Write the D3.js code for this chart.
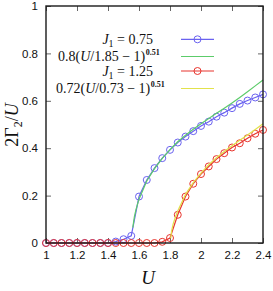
<!DOCTYPE html>
<html>
<head>
<meta charset="utf-8">
<script src="https://cdn.jsdelivr.net/npm/d3@7"></script>
<style>
  body { margin: 0; background: #fff; }
  svg { display: block; }
</style>
</head>
<body>
<div id="chart"></div>
<script>
// data
var uVals = [1.0, 1.05, 1.1, 1.15, 1.2, 1.25, 1.3, 1.35, 1.4, 1.45, 1.5, 1.55, 1.6, 1.65, 1.7,
             1.75, 1.8, 1.85, 1.9, 1.95, 2.0, 2.05, 2.1, 2.15, 2.2, 2.25, 2.3, 2.35, 2.4];
var j075 = [0, 0, 0, 0, 0, 0, 0, 0, 0, 0.006, 0.016, 0.03, 0.196, 0.266, 0.316,
            0.358, 0.393, 0.424, 0.449, 0.472, 0.494, 0.512, 0.533, 0.55, 0.569, 0.587, 0.601, 0.614, 0.627];
var j125 = [0, 0, 0, 0, 0, 0, 0, 0, 0, 0, 0, 0, 0, 0, 0,
            0.005, 0.021, 0.119, 0.196, 0.25, 0.291, 0.323, 0.354, 0.379, 0.403, 0.421, 0.442, 0.461, 0.477];
var fitAU = [1.56, 1.57, 1.58, 1.6, 1.65, 1.7, 1.75, 1.8, 1.85, 1.9, 1.95, 2.0, 2.05, 2.1, 2.15, 2.2, 2.25, 2.3, 2.35, 2.4];
var fitA  = [0.065, 0.11, 0.14, 0.185, 0.262, 0.314, 0.357, 0.394, 0.427, 0.455, 0.48, 0.503, 0.525, 0.547, 0.569, 0.591, 0.614, 0.638, 0.663, 0.688];
var fitBU = [1.805, 1.81, 1.82, 1.83, 1.85, 1.9, 1.95, 2.0, 2.05, 2.1, 2.15, 2.2, 2.25, 2.3, 2.35, 2.4];
var fitB  = [0.02, 0.05, 0.08, 0.1, 0.135, 0.205, 0.255, 0.295, 0.33, 0.36, 0.386, 0.41, 0.434, 0.456, 0.479, 0.503];
var xTicks = [1, 1.2, 1.4, 1.6, 1.8, 2, 2.2, 2.4];
var yTicks = [0, 0.2, 0.4, 0.6, 0.8, 1];

var W = 273, H = 291;
var margin = { top: 6, right: 10, bottom: 48, left: 46 };
var width = W - margin.left - margin.right;
var height = H - margin.top - margin.bottom;

var blue = "#6a62f0", green = "#5ccc6a", red = "#e8352e", yellow = "#e2e24c";

var svg = d3.select("#chart").append("svg")
  .attr("width", W).attr("height", H);
var g = svg.append("g")
  .attr("transform", "translate(" + margin.left + "," + margin.top + ")");

var x = d3.scaleLinear().domain([1, 2.4]).range([0, width]);
var y = d3.scaleLinear().domain([0, 1]).range([height, 0]);

// axes, ticks pointing inward on all four sides
var tickFont = "'Liberation Sans', Arial, sans-serif";
function styleAxis(sel) {
  sel.select(".domain").remove();
  sel.selectAll(".tick line").attr("stroke", "#666").attr("stroke-width", 1);
  sel.selectAll(".tick text").attr("fill", "#111").style("font-family", tickFont).style("font-size", "11.5px");
}
g.append("g").attr("transform", "translate(0," + height + ")")
  .call(d3.axisBottom(x).tickValues(xTicks).tickFormat(d3.format("")).tickSizeInner(-5).tickPadding(8))
  .call(styleAxis);
g.append("g")
  .call(d3.axisLeft(y).tickValues(yTicks).tickFormat(d3.format("")).tickSizeInner(-5).tickPadding(8))
  .call(styleAxis);
g.append("g")
  .call(d3.axisTop(x).tickValues(xTicks).tickFormat("").tickSizeInner(-5))
  .call(styleAxis);
g.append("g").attr("transform", "translate(" + width + ",0)")
  .call(d3.axisRight(y).tickValues(yTicks).tickFormat("").tickSizeInner(-5))
  .call(styleAxis);

var line = d3.line().x(function (d) { return x(d[0]); }).y(function (d) { return y(d[1]); });
var plot = g.append("g");

function series(us, vs, color, markers) {
  var pts = us.map(function (u, i) { return [u, vs[i]]; });
  plot.append("path").datum(pts)
    .attr("fill", "none").attr("stroke", color).attr("stroke-width", 1.2)
    .attr("d", line);
  if (markers) {
    plot.selectAll(null).data(pts).enter().append("circle")
      .attr("cx", function (d) { return x(d[0]); })
      .attr("cy", function (d) { return y(d[1]); })
      .attr("r", 3.5)
      .attr("fill", "none").attr("stroke", color).attr("stroke-width", 1);
  }
}
series(uVals, j075, blue, true);
series(fitAU, fitA, green, false);
series(uVals, j125, red, true);
series(fitBU, fitB, yellow, false);

// frame
g.append("rect").attr("width", width).attr("height", height)
  .attr("fill", "none").attr("stroke", "#1a1a1a").attr("stroke-width", 1.4);

// legend
var serif = "'Liberation Serif', 'DejaVu Serif', serif";
var legend = [
  { kind: "J", val: "0.75", color: blue, marker: true, y: 39.3 },
  { kind: "F", a: "0.8", b: "1.85", color: green, marker: false, y: 56.5, x0: 58 },
  { kind: "J", val: "1.25", color: red, marker: true, y: 71 },
  { kind: "F", a: "0.72", b: "0.73", color: yellow, marker: false, y: 88.5, x0: 56 }
];
var lg = svg.append("g");
legend.forEach(function (d) {
  var t = lg.append("text").attr("y", d.y + 4.5)
    .style("font-family", serif).style("font-size", "14px").attr("fill", "#111");
  if (d.kind === "J") {
    t.attr("x", 153).attr("text-anchor", "end");
    t.append("tspan").style("font-style", "italic").text("J");
    t.append("tspan").attr("dy", 3).style("font-size", "10px").text("1");
    t.append("tspan").attr("dy", -3).text(" = " + d.val);
  } else {
    // spread the formula over the same span as in the picture
    t.attr("x", d.x0).attr("text-anchor", "start");
    var main = t.append("tspan");
    main.append("tspan").text(d.a + "(");
    main.append("tspan").style("font-style", "italic").text("U");
    main.append("tspan").text("/" + d.b + " \u2212 1)");
    t.append("tspan").attr("dy", -6).attr("dx", 0.5).style("font-size", "8px").style("font-weight", "bold").text("0.51");
    var w = t.node().getComputedTextLength();
    var target = 169 - d.x0;
    if (w > target) t.style("font-size", (14 * target / w) + "px");
  }
  lg.append("line").attr("x1", 181).attr("x2", 214).attr("y1", d.y).attr("y2", d.y)
    .attr("stroke", d.color).attr("stroke-width", 1.2);
  if (d.marker) {
    lg.append("circle").attr("cx", 197.5).attr("cy", d.y).attr("r", 3.5)
      .attr("fill", "none").attr("stroke", d.color).attr("stroke-width", 1);
  }
});

// axis titles
svg.append("text").attr("x", 148).attr("y", 284).attr("text-anchor", "middle")
  .style("font-family", serif).style("font-size", "19px").style("font-style", "italic").attr("fill", "#111")
  .text("U");
var yl = svg.append("text").attr("transform", "translate(18,125) rotate(-90)")
  .attr("text-anchor", "middle").style("font-family", serif).style("font-size", "18px").attr("fill", "#111");
yl.append("tspan").text("2\u0393");
yl.append("tspan").attr("dy", 4).style("font-size", "12px").text("2");
yl.append("tspan").attr("dy", -4).text("/");
yl.append("tspan").style("font-style", "italic").text("U");
</script>
</body>
</html>
